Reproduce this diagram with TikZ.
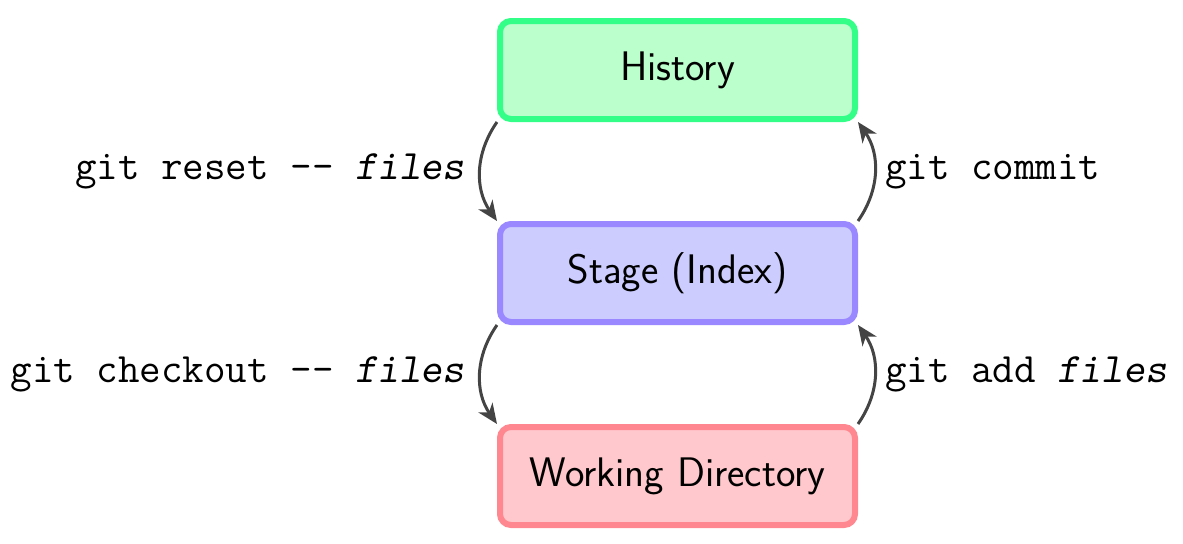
\documentclass[tikz,border=0pt]{standalone}
\usepackage{tikz}
\usetikzlibrary{arrows.meta}

\definecolor{histfill}{HTML}{BBFFCC}
\definecolor{histline}{HTML}{33FF88}
\definecolor{stagefill}{HTML}{CCCCFF}
\definecolor{stageline}{HTML}{9988FF}
\definecolor{workfill}{HTML}{FFC8CC}
\definecolor{workline}{HTML}{FF8890}
\definecolor{arrowgray}{HTML}{444444}

\begin{document}
\begin{tikzpicture}[every node/.append style={font=\fontsize{23.8}{28}\selectfont}]
    \useasboundingbox (0, 0) rectangle (23.66, -10.88);
    \begin{scope}[all/.style={draw, rectangle, rounded corners=0.22cm, line width=0.12cm,
        minimum width=7.1cm, minimum height=1.96cm, font=\fontsize{23.5}{28}\selectfont\sffamily},
        cmd/.style={text=black, inner sep=0.28cm}]

        \node[all, draw=histline, fill=histfill] (hist) at (13.55, -1.40) {History};
        \node[all, draw=stageline, fill=stagefill] (stage) at (13.55, -5.46) {Stage (Index)};
        \node[all, draw=workline, fill=workfill] (work) at (13.55, -9.52) {Working Directory};

        \begin{scope}[line width=0.06cm, color=arrowgray, -{Stealth[length=0.4cm, width=0.34cm, inset=0.12cm]}]
        \path (hist.south west) edge[bend right=35] node[left, cmd] {\texttt{git reset -{}- \textsl{files}}} (stage.north west);
        \path (stage.south west) edge[bend right=35] node[left, cmd] {\texttt{git checkout -{}- \textsl{files}}} (work.north west);
        \path (stage.north east) edge[bend right=35] node[right, cmd, inner sep=0.18cm] {\texttt{git commit}} (hist.south east);
        \path (work.north east) edge[bend right=35] node[right, cmd, inner sep=0.18cm] {\texttt{git add \textsl{files}}} (stage.south east);
        \end{scope}
    \end{scope}
\end{tikzpicture}
\end{document}
